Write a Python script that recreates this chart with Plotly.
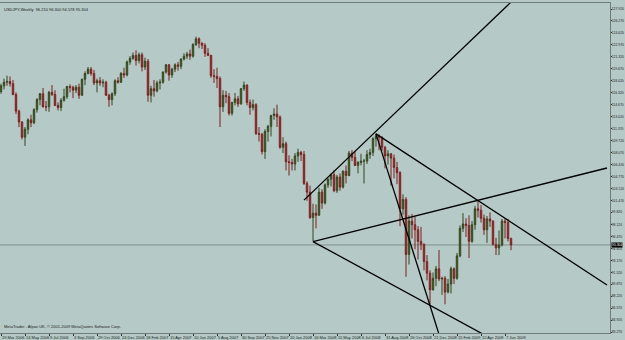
import pandas as pd
import plotly.graph_objects as go

# ---------------- data (USDJPY weekly) ----------------
WEEK_START = "2006-03-19"
N_WEEKS = 171

OPEN = [116.5,117.3,117.8,117.9,117.6,116.1,113.8,112.3,110.2,111.3,
        112.6,112.2,114.0,115.4,116.2,114.4,114.4,116.4,116.1,114.6,
        114.3,115.3,115.8,117.2,117.1,116.7,117.1,116.0,118.2,119.0,
        119.6,119.0,117.7,118.0,117.7,117.8,116.0,115.4,116.2,118.0,
        117.8,119.0,118.8,120.6,121.1,121.5,120.8,121.6,119.9,120.7,
        116.0,116.9,116.6,117.7,117.8,119.2,120.2,118.8,119.6,120.2,
        120.0,121.0,121.4,121.7,121.4,123.0,123.8,123.2,122.9,121.8,
        121.5,118.7,118.6,118.3,114.4,116.0,115.8,113.5,115.0,115.5,
        114.8,116.9,117.4,115.0,114.3,114.7,110.7,110.6,108.2,111.0,
        111.7,113.2,113.4,113.0,108.8,109.3,106.8,106.7,106.5,107.6,
        108.1,107.8,103.8,102.6,99.1,99.7,99.4,102.6,101.1,103.6,
        104.4,105.0,102.8,104.7,103.3,105.5,104.9,108.0,107.4,106.3,
        106.7,106.9,106.9,107.8,108.1,110.0,110.4,110.2,108.8,107.6,
        107.9,107.3,106.0,105.3,100.3,101.6,94.0,98.6,98.1,97.4,
        95.8,95.4,93.0,91.4,89.1,90.7,92.0,90.6,90.7,88.8,
        89.9,92.0,90.7,93.8,97.6,98.2,98.0,95.8,98.1,100.3,
        100.1,99.0,97.4,98.9,98.6,95.4,94.9,95.3,98.6,98.4,
        96.21]
HIGH = [117.6,118.3,118.7,118.6,118.1,116.4,114.0,112.4,111.6,112.8,
        113.3,114.2,115.6,116.3,117.0,115.2,116.6,117.4,116.7,115.0,
        115.6,116.9,117.3,117.5,117.3,117.4,117.6,118.3,119.3,119.9,
        119.9,119.5,118.3,118.5,118.2,118.0,116.2,116.4,118.2,118.5,
        119.2,119.8,120.8,121.4,121.9,122.2,121.9,121.9,121.2,121.0,
        117.3,118.1,118.0,118.2,119.3,120.3,120.3,119.8,120.4,120.6,
        121.1,121.8,122.0,122.3,123.2,124.1,124.0,123.3,123.2,122.5,
        121.6,119.6,119.8,118.6,116.7,116.6,116.3,115.1,116.3,115.9,
        117.0,117.9,117.5,115.4,115.4,114.9,111.6,110.8,111.3,111.9,
        113.3,114.2,114.7,113.2,110.2,109.6,107.7,107.2,108.0,108.6,
        108.3,108.3,104.1,103.5,101.0,100.9,103.2,103.0,103.8,104.5,
        105.2,105.6,105.0,105.2,105.6,106.3,108.3,108.4,108.3,106.9,
        107.9,107.2,108.4,108.6,110.2,110.7,110.6,110.3,109.0,108.4,
        108.0,107.8,106.8,105.5,102.3,101.9,99.4,99.6,99.2,97.9,
        97.8,95.5,93.9,91.8,91.5,92.4,94.6,90.9,91.0,90.6,
        92.3,92.2,94.2,98.0,99.7,99.0,99.4,98.6,100.7,101.4,
        100.8,99.5,99.3,99.8,98.7,96.3,97.3,98.9,98.9,98.9,
        96.30]
LOW = [116.2,116.8,117.3,117.2,116.0,113.4,111.6,109.9,109.0,110.6,
       111.6,112.0,113.6,114.6,114.3,113.8,113.7,115.9,114.5,113.9,
       113.8,115.1,115.5,116.4,115.6,116.3,115.5,115.9,117.4,118.9,
       118.7,117.4,116.4,117.3,117.1,115.9,114.4,114.6,115.9,117.6,
       117.7,118.4,118.6,120.2,120.9,120.1,120.4,119.3,119.5,115.1,
       115.0,115.8,116.4,116.8,117.6,119.0,118.0,118.4,119.2,119.4,
       119.6,120.8,121.0,120.9,121.2,122.8,122.5,122.4,121.3,121.4,
       118.4,117.7,117.0,111.6,113.7,114.9,113.2,113.2,114.6,114.4,
       114.7,116.6,114.6,113.3,113.9,110.5,109.6,107.8,107.2,109.6,
       110.3,112.6,111.6,108.6,108.0,105.6,104.9,105.6,105.6,106.8,
       106.9,103.6,101.4,98.9,95.8,97.6,99.4,100.3,100.9,103.2,
       103.4,102.6,102.5,102.8,103.1,103.8,104.8,106.9,106.2,105.2,
       106.3,103.8,106.5,107.2,107.6,108.9,108.4,108.3,105.9,106.4,
       103.5,104.5,103.7,97.9,99.5,90.9,92.6,96.2,94.7,93.3,
       94.6,91.8,90.4,87.1,89.0,89.6,90.3,88.4,87.1,88.6,
       88.6,89.9,90.5,93.6,97.1,96.4,93.5,95.6,97.4,99.1,
       98.4,96.7,95.6,97.8,95.2,93.9,93.9,95.1,96.2,95.8,
       94.578]
CLOSE = [117.3,117.8,117.9,117.6,116.1,113.8,112.3,110.2,111.3,112.6,
         112.2,114.0,115.4,116.2,114.4,114.4,116.4,116.1,114.6,114.3,
         115.3,115.8,117.2,117.1,116.7,117.1,116.0,118.2,119.0,119.6,
         119.0,117.7,118.0,117.7,117.8,116.0,115.4,116.2,118.0,117.8,
         119.0,118.8,120.6,121.1,121.5,120.8,121.6,119.9,120.7,116.0,
         116.9,116.6,117.7,117.8,119.2,120.2,118.8,119.6,120.2,120.0,
         121.0,121.4,121.7,121.4,123.0,123.8,123.2,122.9,121.8,121.5,
         118.7,118.6,118.3,114.4,116.0,115.8,113.5,115.0,115.5,114.8,
         116.9,117.4,115.0,114.3,114.7,110.7,110.6,108.2,111.0,111.7,
         113.2,113.4,113.0,108.8,109.3,106.8,106.7,106.5,107.6,108.1,
         107.8,103.8,102.6,99.1,99.7,99.4,102.6,101.1,103.6,104.4,
         105.0,102.8,104.7,103.3,105.5,104.9,108.0,107.4,106.3,106.7,
         106.9,106.9,107.8,108.1,110.0,110.4,110.2,108.8,107.6,107.9,
         107.3,106.0,105.3,100.3,101.6,94.0,98.6,98.1,97.4,95.8,
         95.4,93.0,91.4,89.1,90.7,92.0,90.6,90.7,88.8,89.9,
         92.0,90.7,93.8,97.6,98.2,98.0,95.8,98.1,100.3,100.1,
         99.0,97.4,98.9,98.6,95.4,94.9,95.3,98.6,98.4,96.2,
         95.304]

# price-axis labels (as printed by the terminal)
Y_LABELS = [83.270, 84.920, 86.570, 88.220, 89.870, 91.520, 93.170, 94.820,
            96.470, 98.120, 99.820, 101.470, 103.120, 104.770, 106.420,
            108.070, 109.720, 111.370, 113.020, 114.670, 116.320, 118.020,
            119.670, 121.320, 122.970, 124.620, 126.270, 127.920]

# date-axis labels (every 8 weeks)
X_LABEL_DATES = ["2006-03-19", "2006-05-14", "2006-07-09", "2006-09-03",
                 "2006-10-29", "2006-12-24", "2007-02-18", "2007-04-15",
                 "2007-06-10", "2007-08-05", "2007-09-30", "2007-11-25",
                 "2008-01-20", "2008-03-16", "2008-05-11", "2008-07-06",
                 "2008-08-31", "2008-10-26", "2008-12-21", "2009-02-15",
                 "2009-04-12", "2009-06-07"]

# hand-drawn trend lines: (dates, prices)
TL_UP_DATES = ["2008-02-24", "2009-06-26"];   TL_UP_PRICES = [101.50, 129.16]
TL_DN_DATES = ["2008-08-10", "2010-01-31"];   TL_DN_PRICES = [110.66, 89.77]
TL_STEEP_DATES = ["2008-08-10", "2009-01-06"]; TL_STEEP_PRICES = [110.66, 82.58]
TL_RISE_DATES = ["2008-03-16", "2010-01-31"]; TL_RISE_PRICES = [95.77, 105.94]
TL_FALL_DATES = ["2008-03-16", "2009-04-19"]; TL_FALL_PRICES = [95.77, 82.90]

HEADER = "USDJPY,Weekly  96.210 96.300 94.578 95.304"
FOOTER = "MetaTrader - Alpari UK, \u00a9 2001-2009 MetaQuotes Software Corp."

# ---------------- figure ----------------
BG = "#b5cac6"
FONT = "Liberation Sans"
AXIS_FS = 3.4
dates = pd.date_range(WEEK_START, periods=N_WEEKS, freq="7D")

fig = go.Figure()
fig.add_trace(go.Candlestick(
    x=dates, open=OPEN, high=HIGH, low=LOW, close=CLOSE,
    increasing=dict(line=dict(color="#34441f", width=1), fillcolor="#4f6e2c"),
    decreasing=dict(line=dict(color="#7a1f1f", width=1), fillcolor="#b03a3a"),
    whiskerwidth=0, showlegend=False, hoverinfo="skip"))

for dx, py in [(TL_UP_DATES, TL_UP_PRICES), (TL_DN_DATES, TL_DN_PRICES),
               (TL_STEEP_DATES, TL_STEEP_PRICES), (TL_RISE_DATES, TL_RISE_PRICES),
               (TL_FALL_DATES, TL_FALL_PRICES)]:
    fig.add_trace(go.Scatter(x=pd.to_datetime(dx), y=py, mode="lines",
                             line=dict(color="#000000", width=1.3),
                             showlegend=False, hoverinfo="skip"))

# current price line
fig.add_hline(y=CLOSE[-1], line=dict(color="#7f8f8c", width=1), layer="below")

week = pd.Timedelta(days=7)
x0 = pd.Timestamp(WEEK_START) - week / 3
x1 = x0 + week * (610 / 3)

fig.update_layout(
    width=625, height=340,
    margin=dict(l=0, r=15, t=3, b=7),
    paper_bgcolor=BG, plot_bgcolor=BG,
    font=dict(family=FONT, size=4, color="#1a1a1a"),
    showlegend=False,
    xaxis=dict(range=[x0, x1], rangeslider=dict(visible=False),
               automargin=False, tickangle=0,
               showgrid=False, zeroline=False,
               showline=True, linecolor="#6f7c7a", linewidth=1, mirror=True,
               ticks="outside", ticklen=2, tickcolor="#333",
               tickvals=pd.to_datetime(X_LABEL_DATES),
               ticktext=[pd.Timestamp(d).strftime("%-d %b %Y") for d in X_LABEL_DATES],
               ticklabelposition="outside right",
               tickfont=dict(size=4, color="#1a1a1a")),
    yaxis=dict(range=[83.132, 128.749], side="right", automargin=False,
               showgrid=False, zeroline=False,
               showline=True, linecolor="#6f7c7a", linewidth=1, mirror=True,
               ticks="outside", ticklen=1, tickcolor="#333",
               ticklabelstandoff=-1,
               tickvals=Y_LABELS, ticktext=[f"{v:.3f}" for v in Y_LABELS],
               tickfont=dict(size=AXIS_FS, color="#1a1a1a")),
)

fig.add_annotation(x=0.004, y=0.995, xref="paper", yref="paper", text=HEADER,
                   showarrow=False, xanchor="left", yanchor="top",
                   font=dict(size=4, color="#1a1a1a"))
fig.add_annotation(x=0.003, y=0.005, xref="paper", yref="paper", text=FOOTER,
                   showarrow=False, xanchor="left", yanchor="bottom",
                   font=dict(size=4, color="#1a1a1a"))
fig.add_annotation(x=1.0, y=CLOSE[-1], xref="paper", yref="y",
                   text=f"{CLOSE[-1]:.3f}", showarrow=False, xanchor="left",
                   bgcolor="#000000", borderpad=0, xshift=1,
                   font=dict(size=AXIS_FS, color="#ffffff"))

fig.write_html("out.html")
